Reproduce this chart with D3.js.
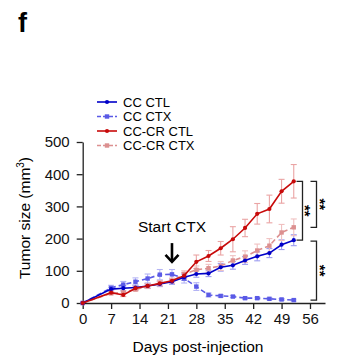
<!DOCTYPE html>
<html>
<head>
<meta charset="utf-8">
<script src="https://cdn.jsdelivr.net/npm/d3@7"></script>
<style>
  body { margin: 0; background: #fff; }
  text { font-family: "Liberation Sans", Arial, sans-serif; }
</style>
</head>
<body>
<svg id="chart" width="351" height="356"></svg>
<script>
// days post-injection
const days = [0, 7, 10, 13, 16, 19, 22, 25, 28, 31, 34, 37, 40, 43, 46, 49, 52];

// tumor size (mm3), mean values
const ccCtl = [0, 43, 46, 48, 53, 59, 66, 80, 90, 92, 111, 117, 132, 145, 155, 181, 195];
const ccCtx = [0, 47, 57, 66, 76, 88, 89, 76, 51, 25, 22, 20, 15, 15, 13, 11, 9];
const crCtl = [0, 32, 25, 46, 53, 61, 69, 85, 128, 146, 170, 198, 233, 277, 292, 347, 378];
const crCtx = [0, 30, 33, 42, 52, 60, 68, 90, 103, 108, 115, 132, 144, 163, 178, 219, 235];

// error bars (sem)
const ccCtlErr = [0, 6, 8, 8, 8, 8, 8, 10, 10, 10, 12, 12, 12, 14, 14, 15, 17];
const ccCtxErr = [0, 8, 10, 12, 14, 16, 15, 14, 12, 6, 4, 3, 3, 3, 3, 3, 3];
const crCtlErr = [0, 5, 5, 6, 7, 8, 8, 10, 21, 17, 21, 39, 27, 32, 43, 37, 52];
const crCtxErr = [0, 4, 4, 5, 6, 6, 7, 10, 12, 12, 14, 15, 18, 20, 22, 25, 26];

const xTicks = [0, 7, 14, 21, 28, 35, 42, 49, 56];
const yTicks = [0, 100, 200, 300, 400, 500];

const series = [
    {name: 'CC CTL', values: ccCtl, err: ccCtlErr, color: '#0000c8', errColor: '#9c9cf0', dash: null, marker: 'circle'},
    {name: 'CC CTX', values: ccCtx, err: ccCtxErr, color: '#5a5ae6', errColor: '#b4b4f4', dash: '5,3', marker: 'square'},
    {name: 'CC-CR CTL', values: crCtl, err: crCtlErr, color: '#c80a0a', errColor: '#eaa4a4', dash: null, marker: 'circle'},
    {name: 'CC-CR CTX', values: crCtx, err: crCtxErr, color: '#dc9090', errColor: '#f0c0c0', dash: '5,3', marker: 'square'}
];

const svg = d3.select('#chart');

const x = d3.scaleLinear().domain([0, 59.7]).range([82.7, 325]);
const y = d3.scaleLinear().domain([0, 500]).range([303, 142]);

// panel letter
svg.append('text')
    .attr('x', 18).attr('y', 32)
    .attr('font-size', 27).attr('font-weight', 'bold')
    .text('f');

// axes
const yAxis = svg.append('g')
    .attr('transform', 'translate(' + x(0) + ',0)')
    .call(d3.axisLeft(y).tickValues(yTicks).tickSize(6).tickPadding(7).tickSizeOuter(0));
const xAxis = svg.append('g')
    .attr('transform', 'translate(0,' + y(0) + ')')
    .call(d3.axisBottom(x).tickValues(xTicks).tickSize(6).tickPadding(4).tickSizeOuter(0));

[xAxis, yAxis].forEach(g => {
    g.select('.domain').attr('stroke', '#222').attr('stroke-width', 1.3);
    g.selectAll('.tick line').attr('stroke', '#222').attr('stroke-width', 1.3);
    g.selectAll('.tick text')
        .attr('font-size', 15)
        .attr('fill', '#111')
        .style('font-family', '"Liberation Sans", Arial, sans-serif');
});

// axis titles
svg.append('text')
    .attr('x', 198).attr('y', 352)
    .attr('text-anchor', 'middle')
    .attr('font-size', 15.5)
    .text('Days post-injection');

const yTitle = svg.append('text')
    .attr('transform', 'translate(30,' + 218 + ') rotate(-90)')
    .attr('text-anchor', 'middle')
    .attr('font-size', 15.5);
yTitle.append('tspan').text('Tumor size (mm');
yTitle.append('tspan').attr('font-size', 10).attr('dy', -6).text('3');
yTitle.append('tspan').attr('dy', 6).text(')');

// error bars
const capW = 3;
series.forEach(s => {
    const g = svg.append('g').attr('stroke', s.errColor).attr('stroke-width', 1.1);
    days.forEach((d, i) => {
        if (s.err[i] === 0) return;
        const lo = y(s.values[i] - s.err[i]), hi = y(s.values[i] + s.err[i]);
        g.append('line').attr('x1', x(d)).attr('x2', x(d)).attr('y1', lo).attr('y2', hi);
        g.append('line').attr('x1', x(d) - capW).attr('x2', x(d) + capW).attr('y1', lo).attr('y2', lo);
        g.append('line').attr('x1', x(d) - capW).attr('x2', x(d) + capW).attr('y1', hi).attr('y2', hi);
    });
});

// lines + markers
const line = d3.line().x((d, i) => x(days[i])).y(d => y(d));
const drawOrder = [3, 1, 0, 2];

function drawMarker(g, s, cx, cy) {
    if (s.marker === 'circle') {
        g.append('circle').attr('cx', cx).attr('cy', cy).attr('r', 2.1).attr('fill', s.color);
    } else {
        g.append('rect').attr('x', cx - 2.2).attr('y', cy - 2.2)
            .attr('width', 4.4).attr('height', 4.4).attr('fill', s.color);
    }
}

drawOrder.forEach(k => {
    const s = series[k];
    svg.append('path')
        .datum(s.values)
        .attr('d', line)
        .attr('fill', 'none')
        .attr('stroke', s.color)
        .attr('stroke-width', 1.6)
        .attr('stroke-dasharray', s.dash);
    const g = svg.append('g');
    s.values.forEach((v, i) => drawMarker(g, s, x(days[i]), y(v)));
});

// legend
const legend = svg.append('g');
series.forEach((s, i) => {
    const ly = 102 + i * 14.5;
    legend.append('line')
        .attr('x1', 97).attr('x2', 117).attr('y1', ly).attr('y2', ly)
        .attr('stroke', s.color).attr('stroke-width', 1.6)
        .attr('stroke-dasharray', s.dash ? '4,2' : null);
    drawMarker(legend, s, 107, ly);
    legend.append('text')
        .attr('x', 123).attr('y', ly + 4.7)
        .attr('font-size', 13)
        .text(s.name);
});

// Start CTX annotation
svg.append('text')
    .attr('x', x(22)).attr('y', y(222))
    .attr('text-anchor', 'middle')
    .attr('font-size', 15.5)
    .text('Start CTX');
const arrow = svg.append('g').attr('stroke', '#000').attr('stroke-width', 2.6).attr('fill', 'none');
arrow.append('line').attr('x1', x(22)).attr('x2', x(22)).attr('y1', y(186)).attr('y2', y(128));
arrow.append('path')
    .attr('d', 'M' + (x(22) - 6.5) + ',' + (y(128) - 7) + 'L' + x(22) + ',' + y(128) + 'L' + (x(22) + 6.5) + ',' + (y(128) - 7));

// significance brackets
const last = days.length - 1;
function bracket(bx, v1, v2, sx) {
    const g = svg.append('g').attr('stroke', '#222').attr('stroke-width', 1.3).attr('fill', 'none');
    const y1 = y(v1), y2 = y(v2);
    g.append('path').attr('d', 'M' + (bx - 6) + ',' + y1 + 'H' + bx + 'V' + y2 + 'H' + (bx - 6));
    svg.append('text')
        .attr('transform', 'translate(' + sx + ',' + ((y1 + y2) / 2) + ') rotate(90)')
        .attr('text-anchor', 'middle')
        .attr('font-size', 15)
        .attr('font-weight', 'bold')
        .text('**');
}
bracket(302.5, crCtl[last], ccCtl[last], 300);
bracket(316.5, crCtl[last], crCtx[last], 314.5);
bracket(316.5, ccCtl[last] - 3, ccCtx[last], 314.5);
</script>
</body>
</html>
